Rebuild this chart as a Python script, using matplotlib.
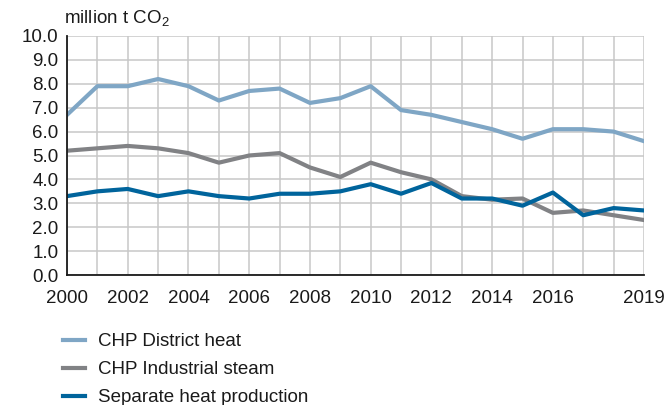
import matplotlib.pyplot as plt
from matplotlib.lines import Line2D

plt.rcParams.update({
    "font.family": ["Liberation Sans", "DejaVu Sans"],
    "font.size": 13.5,
    "mathtext.fontset": "custom",
    "mathtext.rm": "Liberation Sans",
    "mathtext.it": "Liberation Sans:italic",
    "figure.facecolor": "white",
    "axes.facecolor": "white",
})

years = list(range(2000, 2020))
district_heat = [6.7, 7.9, 7.9, 8.2, 7.9, 7.3, 7.7, 7.8, 7.2, 7.4,
                 7.9, 6.9, 6.7, 6.4, 6.1, 5.7, 6.1, 6.1, 6.0, 5.6]
industrial_steam = [5.2, 5.3, 5.4, 5.3, 5.1, 4.7, 5.0, 5.1, 4.5, 4.1,
                    4.7, 4.3, 4.0, 3.3, 3.15, 3.2, 2.6, 2.7, 2.5, 2.3]
separate_heat = [3.3, 3.5, 3.6, 3.3, 3.5, 3.3, 3.2, 3.4, 3.4, 3.5,
                 3.8, 3.4, 3.85, 3.2, 3.2, 2.9, 3.45, 2.5, 2.8, 2.7]
xtick_years = [2000, 2002, 2004, 2006, 2008, 2010, 2012, 2014, 2016, 2019]
series_names = ["CHP District heat", "CHP Industrial steam", "Separate heat production"]
colors = ["#7fa6c5", "#818285", "#00649c"]

fig = plt.figure(figsize=(6.69, 4.05), dpi=100)
ax = fig.add_axes([67 / 669, 1 - 275 / 405, (644 - 67) / 669, (275 - 36) / 405])

for vals, c in zip([district_heat, industrial_steam, separate_heat], colors):
    ax.plot(years, vals, color=c, linewidth=3, solid_joinstyle="round", zorder=3)

ax.set_xlim(2000, 2019)
ax.set_ylim(0, 10)
ax.set_xticks(years, minor=True)
ax.set_xticks(xtick_years)
ax.set_yticks([i for i in range(11)])
ax.set_yticklabels([f"{i:.1f}" for i in range(11)])
ax.grid(which="both", color="#c8c8c8", linewidth=1.1)
ax.tick_params(which="both", length=0, labelsize=13.5, colors="#1a1a1a")
ax.tick_params(axis="x", pad=11)
ax.tick_params(axis="y", pad=6)

for s in ["top", "right"]:
    ax.spines[s].set_visible(False)
for s in ["left", "bottom"]:
    ax.spines[s].set_color("#1a1a1a")
    ax.spines[s].set_linewidth(1.3)
    ax.spines[s].set_zorder(4)

fig.text(64 / 669, 1 - 18 / 405, "million t CO$_2$", ha="left", va="center",
         fontsize=13.5, color="#1a1a1a")

handles = [Line2D([0], [0], color=c, linewidth=3) for c in colors]
fig.legend(handles, series_names, loc="upper left",
           bbox_to_anchor=(63 / 669, 1 - 333 / 405), frameon=False,
           fontsize=13.5, handlelength=1.2, handletextpad=0.65, labelspacing=0.58,
           borderaxespad=0, borderpad=0, labelcolor="#1a1a1a")

fig.savefig("out.png", dpi=100)
